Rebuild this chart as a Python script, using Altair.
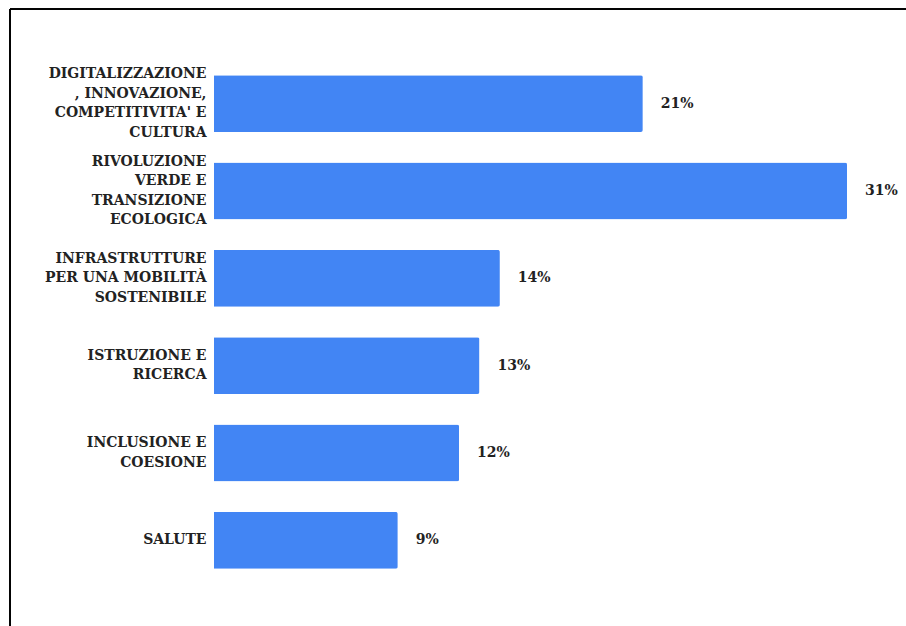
import altair as alt
import pandas as pd

categories = [
    "DIGITALIZZAZIONE|, INNOVAZIONE,|COMPETITIVITA' E|CULTURA",
    "RIVOLUZIONE|VERDE E|TRANSIZIONE|ECOLOGICA",
    "INFRASTRUTTURE|PER UNA MOBILITÀ|SOSTENIBILE",
    "ISTRUZIONE E|RICERCA",
    "INCLUSIONE E|COESIONE",
    "SALUTE",
]
values = [21, 31, 14, 13, 12, 9]
labels = ["21%", "31%", "14%", "13%", "12%", "9%"]

df = pd.DataFrame({"cat": categories, "val": values, "lab": labels})

FONT = "DejaVu Serif"
TXT = "#222222"
LH = 19.5

nl = "length(split(datum.label, '|'))"
label_offset = {
    "condition": [
        {"test": f"{nl} == 4", "value": -1.5 * LH},
        {"test": f"{nl} == 3", "value": -1.0 * LH},
        {"test": f"{nl} == 2", "value": -0.5 * LH},
    ],
    "value": 0,
}

y_enc = alt.Y(
    "cat:N",
    sort=categories,
    title=None,
    scale=alt.Scale(paddingInner=0.35, paddingOuter=0.175),
    axis=alt.Axis(
        domain=False, ticks=False, grid=False,
        labelExpr="split(datum.label, '|')",
        labelFont=FONT, labelFontWeight="bold", labelFontSize=14,
        labelColor=TXT, labelLineHeight=LH, labelPadding=8,
        labelLimit=300, labelOffset=label_offset,
    ),
)
x_enc = alt.X("val:Q", title=None, scale=alt.Scale(domain=[0, 31], nice=False, zero=True), axis=None)

bars = alt.Chart(df).mark_bar(color="#4285F4", cornerRadiusEnd=2).encode(x=x_enc, y=y_enc)
text = alt.Chart(df).mark_text(
    align="left", baseline="middle", dx=18, font=FONT, fontWeight="bold", fontSize=14, color=TXT
).encode(x=x_enc, y=alt.Y("cat:N", sort=categories), text="lab:N")

frame_top = alt.Chart(df).mark_rule(color="#000000", strokeWidth=1).encode(
    x=alt.value(-204), x2=alt.value(700), y=alt.value(-51)
)
frame_left = alt.Chart(df).mark_rule(color="#000000", strokeWidth=1).encode(
    x=alt.value(-204), y=alt.value(-51), y2=alt.value(580)
)

chart = alt.layer(bars, text, frame_top, frame_left).properties(
    width=633, height=524,
    autosize=alt.AutoSizeParams(type="none"),
    padding={"left": 214, "top": 60, "right": 59, "bottom": 42},
    background="white",
).configure_view(stroke=None)

chart.save("out.html", embed_options={"renderer": "svg", "actions": False})
